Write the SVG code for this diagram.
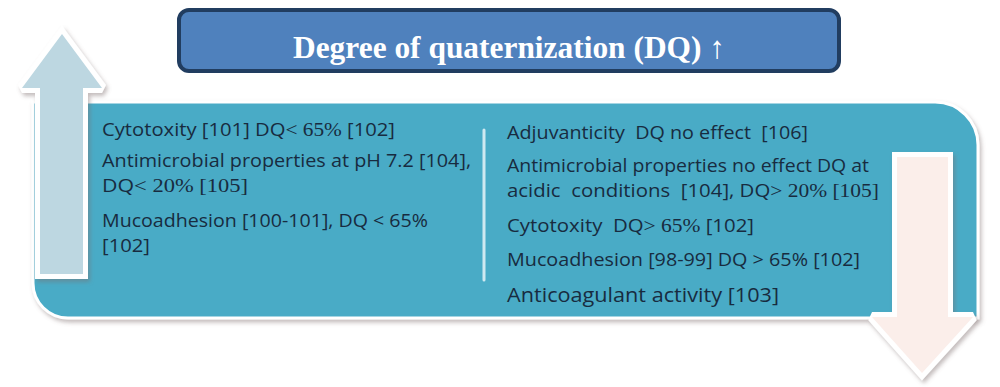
<svg xmlns="http://www.w3.org/2000/svg" width="1000" height="387" viewBox="0 0 1000 387">
<defs>
<filter id="sh" x="-10%" y="-10%" width="130%" height="130%">
<feDropShadow dx="2" dy="3" stdDeviation="2" flood-color="#7a6a6a" flood-opacity="0.45"/>
</filter>
<style>
.t{font-family:"Open Sans","Liberation Sans",sans-serif;font-size:18.5px;fill:#182b40;white-space:pre}
.s{font-family:"Liberation Serif","Times New Roman",serif;font-size:19.5px}
.title{font-family:"Liberation Serif","Times New Roman",serif;font-weight:bold;font-size:31px;fill:#ffffff}
.arrow{stroke:#ffffff;stroke-width:10;paint-order:stroke;stroke-linejoin:miter;stroke-miterlimit:2}
</style>
</defs>
<rect width="1000" height="387" fill="#ffffff"/>
<g id="panel">
<path d="M33,102 H935 A43,43 0 0 1 978,145 V318 H68 A35,35 0 0 1 33,283 Z" fill="#4aabc6" stroke="#ffffff" stroke-width="3" filter="url(#sh)"/>
<line x1="484" y1="130" x2="484" y2="280" stroke="#cfe9f1" stroke-width="3" stroke-linecap="round"/>
</g>
<g id="title">
<rect x="179" y="10" width="660" height="61" rx="10" fill="#4f81bd" stroke="#213d60" stroke-width="4"/>
<text class="title" x="509" y="58" text-anchor="middle" textLength="432" lengthAdjust="spacingAndGlyphs">Degree of quaternization (DQ) ↑</text>
</g>
<g id="arrow-up">
<polygon class="arrow" points="62,34 102,88 83,88 83,274 40,274 40,88 22,88" fill="#bdd7e1" filter="url(#sh)"/>
</g>
<g id="arrow-down">
<polygon class="arrow" points="897,157 948,157 948,317 973,317 922,373 872,317 897,317" fill="#fbeeea" filter="url(#sh)"/>
</g>
<g id="left-column">
<text class="t" x="102" y="136" textLength="293" lengthAdjust="spacingAndGlyphs">Cytotoxity [101] DQ<tspan class="s">&lt; 65%</tspan> [102]</text>
<text class="t" x="102" y="167" textLength="369" lengthAdjust="spacingAndGlyphs">Antimicrobial properties at pH 7.2 [104],</text>
<text class="t" x="102" y="192" textLength="146" lengthAdjust="spacingAndGlyphs">DQ<tspan class="s">&lt; 20% [105]</tspan></text>
<text class="t" x="102" y="227" textLength="326" lengthAdjust="spacingAndGlyphs">Mucoadhesion [100-101], DQ &lt; 65%</text>
<text class="t" x="102" y="252" textLength="48" lengthAdjust="spacingAndGlyphs">[102]</text>
</g>
<g id="right-column">
<text class="t" x="507" y="139" textLength="301" lengthAdjust="spacingAndGlyphs">Adjuvanticity  DQ no effect  [106]</text>
<text class="t" x="507" y="172" textLength="362" lengthAdjust="spacingAndGlyphs">Antimicrobial properties no effect DQ at</text>
<text class="t" x="507" y="197" textLength="372" lengthAdjust="spacingAndGlyphs">acidic  conditions  [104], DQ<tspan class="s">&gt; 20% [105]</tspan></text>
<text class="t" x="507" y="232" textLength="247" lengthAdjust="spacingAndGlyphs">Cytotoxity  DQ<tspan class="s">&gt; 65%</tspan> [102]</text>
<text class="t" x="507" y="266" textLength="353" lengthAdjust="spacingAndGlyphs">Mucoadhesion [98-99] DQ &gt; 65% [102]</text>
<text class="t" x="507" y="302" textLength="272" lengthAdjust="spacingAndGlyphs" style="font-size:19.5px">Anticoagulant activity [103]</text>
</g>
</svg>
